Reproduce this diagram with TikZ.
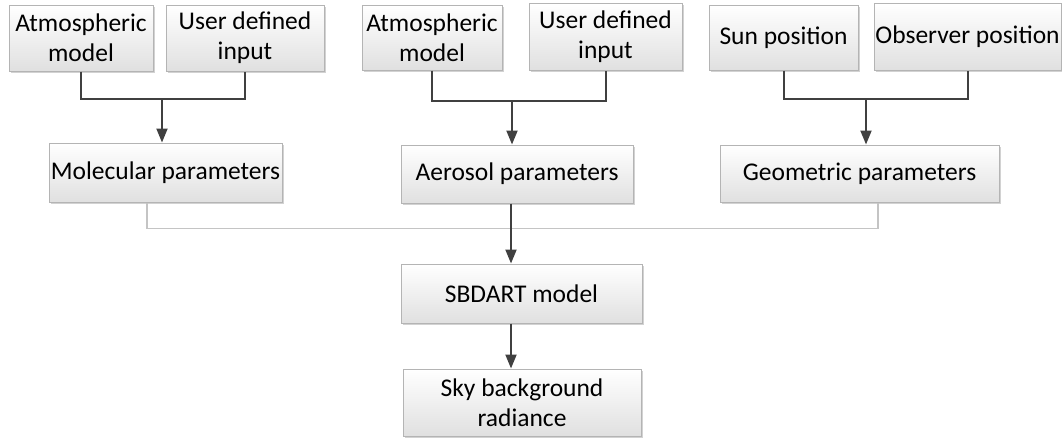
\documentclass[tikz,border=0pt]{standalone}
\usepackage{fontspec}
\setmainfont{Carlito}
\usetikzlibrary{arrows.meta,shadows}
\definecolor{boxborder}{HTML}{B4B4B4}
\definecolor{boxbot}{HTML}{E0E0E0}
\definecolor{connc}{HTML}{404040}
\definecolor{thinl}{HTML}{C4C4C4}
\begin{document}
\begin{tikzpicture}[x=1pt,y=1pt,
  box/.style={draw=boxborder, line width=1pt, top color=white, bottom color=boxbot,
    inner sep=0pt, align=center, font=\fontsize{25.5}{30}\selectfont,
    drop shadow={shadow xshift=1.5pt, shadow yshift=-1.5pt, fill=black!35, opacity=0.5}},
  conn/.style={draw=connc, line width=2pt},
  arr/.style={conn, -{Triangle[width=11pt,length=14pt]}},
  feed/.style={draw=thinl, line width=1.5pt}]
\useasboundingbox (0,0) rectangle (1062,-439);
% top row
\node[box, minimum width=144, minimum height=66] (atmA) at (81,-38) {Atmospheric\\model};
\node[box, minimum width=158, minimum height=66] (userA) at (245,-38) {User defined\\input};
\node[box, minimum width=140, minimum height=65] (atmB) at (432,-37.5) {Atmospheric\\model};
\node[box, minimum width=153, minimum height=67] (userB) at (605.5,-36.5) {User defined\\input};
\node[box, minimum width=149, minimum height=65] (sun) at (783.5,-37.5) {Sun position};
\node[box, minimum width=187, minimum height=67] (obs) at (967.5,-36.5) {Observer position};
% middle row
\node[box, minimum width=233, minimum height=59] (mol) at (165.5,-172.5) {Molecular parameters};
\node[box, minimum width=232, minimum height=58] (aer) at (517,-174) {Aerosol parameters};
\node[box, minimum width=279, minimum height=57] (geo) at (859.5,-173.5) {Geometric parameters};
% bottom
\node[box, minimum width=241, minimum height=59] (sbd) at (521.5,-293.5) {SBDART model};
\node[box, minimum width=238, minimum height=67] (sky) at (522,-402.5) {Sky background\\radiance};
% connectors group A
\draw[conn] (atmA.south) -- ++(0,-27) -| (userA.south);
\coordinate (jA) at (162,-98);
\draw[arr] (jA) -- (jA |- mol.north);
% group B
\draw[conn] (atmB.south) -- ++(0,-30) -| (userB.south);
\coordinate (jB) at (512,-100);
\draw[arr] (jB) -- (jB |- aer.north);
% group C
\draw[conn] (sun.south) -- ++(0,-28) -| (obs.south);
\coordinate (jC) at (866,-98);
\draw[arr] (jC) -- (jC |- geo.north);
% feed line
\coordinate (mS) at ([xshift=-18.5]mol.south);
\coordinate (gS) at ([xshift=18.5]geo.south);
\draw[feed] (mS) -- ++(0,-26) -| (gS);
% arrows down
\coordinate (aS) at ([xshift=-6]aer.south);
\draw[arr] (aS) -- (aS |- sbd.north);
\coordinate (sS) at ([xshift=-10.5]sbd.south);
\draw[arr] (sS) -- (sS |- sky.north);
\end{tikzpicture}
\end{document}
